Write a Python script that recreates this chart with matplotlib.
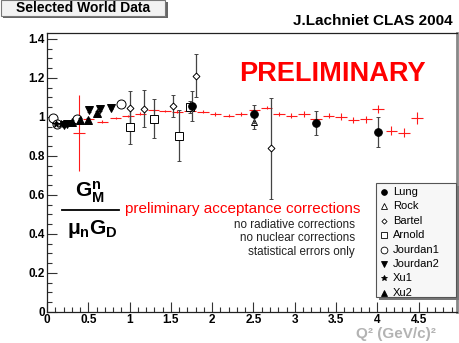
import matplotlib

matplotlib.use("Agg")
import matplotlib.pyplot as plt
from matplotlib.lines import Line2D
from matplotlib.patches import Rectangle
from matplotlib.ticker import MultipleLocator, FormatStrFormatter

plt.rcParams["font.family"] = ["Liberation Sans", "DejaVu Sans"]
plt.rcParams["mathtext.fontset"] = "custom"
plt.rcParams["mathtext.rm"] = "Liberation Sans"
plt.rcParams["mathtext.bf"] = "Liberation Sans:bold"
plt.rcParams["mathtext.it"] = "Liberation Sans:italic"

W, H = 459, 343

# CLAS preliminary points (red crosses)
clas_q2 = [0.39, 0.50, 0.67, 0.83, 0.98, 1.13, 1.29, 1.43, 1.58, 1.73, 1.89, 2.04, 2.20, 2.35,
           2.51, 2.66, 2.81, 2.96, 3.11, 3.26, 3.41, 3.56, 3.71, 3.86, 4.01, 4.17, 4.32, 4.48]
clas_ratio = [0.916, 0.99, 0.976, 0.995, 1.003, 1.017, 1.033, 1.031, 1.027, 1.030, 1.027, 1.015,
              1.005, 1.015, 1.034, 1.048, 1.015, 1.007, 1.015, 0.990, 1.007, 1.002, 0.985, 0.988,
              1.040, 0.930, 0.920, 0.995]
clas_err = [0.195, 0.006, 0.006, 0.006, 0.006, 0.006, 0.006, 0.006, 0.006, 0.007, 0.007, 0.008,
            0.008, 0.009, 0.010, 0.010, 0.011, 0.012, 0.013, 0.014, 0.015, 0.016, 0.017, 0.018,
            0.022, 0.024, 0.022, 0.030]
clas_bin = [0.07] * len(clas_q2)

# world data
lung_q2, lung_r, lung_e = [1.75, 2.51, 3.26, 4.01], [1.056, 1.015, 0.968, 0.925], [0.077, 0.045, 0.06, 0.077]
rock_q2, rock_r, rock_e = [2.51], [0.975], [0.035]
bartel_q2 = [1.00, 1.17, 1.53, 1.80, 2.71]
bartel_r = [1.048, 1.041, 1.056, 1.212, 0.839]
bartel_e = [0.085, 0.095, 0.057, 0.11, 0.26]
arnold_q2, arnold_r, arnold_e = [1.00, 1.30, 1.60, 1.73], [0.950, 0.990, 0.903, 1.050], [0.088, 0.10, 0.13, 0.03]
jourdan1_q2, jourdan1_r, jourdan1_e = [0.07, 0.125, 0.36, 0.90], [0.992, 0.966, 0.990, 1.065], [0.01, 0.01, 0.01, 0.01]
jourdan2_q2, jourdan2_r, jourdan2_e = [0.20, 0.24, 0.51, 0.64, 0.775], [0.960, 0.963, 1.036, 1.041, 1.048], [0.01] * 5
xu1_q2, xu1_r, xu1_e = [0.11, 0.17], [0.966, 0.962], [0.008, 0.008]
xu2_q2, xu2_r, xu2_e = [0.30, 0.40, 0.50, 0.61], [0.972, 0.984, 0.984, 1.019], [0.01] * 4

legend_labels = ["Lung", "Rock", "Bartel", "Arnold", "Jourdan1", "Jourdan2", "Xu1", "Xu2"]

# data, marker, face colour, size, drawing order
world = [
    (lung_q2, lung_r, lung_e, "o", "k", 5.5, 5),
    (rock_q2, rock_r, rock_e, "^", "white", 5, 3),
    (bartel_q2, bartel_r, bartel_e, "D", "white", 3.5, 3),
    (arnold_q2, arnold_r, arnold_e, "s", "white", 6, 3),
    (jourdan1_q2, jourdan1_r, jourdan1_e, "o", "white", 6.5, 3),
    (jourdan2_q2, jourdan2_r, jourdan2_e, "v", "k", 5.5, 4),
    (xu1_q2, xu1_r, xu1_e, "*", "k", 5.5, 4),
    (xu2_q2, xu2_r, xu2_e, "^", "k", 5.5, 4),
]


def fxy(x, y):
    """Pixel position (from top-left) to figure fraction."""
    return x / W, 1 - y / H


fig = plt.figure(figsize=(W / 100, H / 100), dpi=100)
fig.patch.set_facecolor("white")

ax = fig.add_axes([47 / W, 1 - 312 / H, 410 / W, 279 / H])
ax.set_xlim(0, 4.964)
ax.set_ylim(0, 1.43)

ax.errorbar(clas_q2, clas_ratio, xerr=clas_bin, yerr=clas_err, fmt="none",
            ecolor="#ff1a1a", elinewidth=0.8, capsize=0, zorder=2)

for q2, r, e, m, fc, ms, z in world:
    ax.errorbar(q2, r, yerr=e, fmt=m, mfc=fc, mec="k", ms=ms, mew=0.7,
                ecolor="#444444", elinewidth=0.9, capsize=1.5, capthick=0.8, zorder=z)

ax.xaxis.set_major_locator(MultipleLocator(0.5))
ax.xaxis.set_minor_locator(MultipleLocator(0.1))
ax.yaxis.set_major_locator(MultipleLocator(0.2))
ax.yaxis.set_minor_locator(MultipleLocator(0.05))
ax.xaxis.set_major_formatter(FormatStrFormatter("%g"))
ax.yaxis.set_major_formatter(FormatStrFormatter("%g"))
ax.tick_params(which="both", direction="in", top=False, right=False, width=0.8, color="#333333")
ax.tick_params(which="major", length=7, labelsize=8.5, pad=1.5)
ax.tick_params(which="minor", length=3.5)
for lab in ax.get_xticklabels() + ax.get_yticklabels():
    lab.set_fontweight("bold")
for s in ["left", "bottom", "top"]:
    ax.spines[s].set_linewidth(0.9)
    ax.spines[s].set_color("#222222")
ax.spines["right"].set_color("#888888")
ax.spines["right"].set_linewidth(2)

# x axis title
fig.text(*fxy(436, 334), "Q² (GeV/c)²", ha="right", va="center",
         fontsize=11, fontweight="bold", color="#b3b3b3")

# title box with shadow
fig.add_artist(Rectangle(fxy(3, 18), 165 / W, 16 / H, transform=fig.transFigure,
                         facecolor="#666666", edgecolor="none"))
fig.add_artist(Rectangle(fxy(1, 16), 164 / W, 16 / H, transform=fig.transFigure,
                         facecolor="#f2f2f2", edgecolor="#777777", lw=0.8))
fig.text(*fxy(83, 8.5), "Selected World Data", ha="center", va="center",
         fontsize=10, fontweight="bold")

fig.text(*fxy(453, 21), "J.Lachniet CLAS 2004", ha="right", va="center",
         fontsize=11, fontweight="bold")

fig.text(*fxy(332, 74), "PRELIMINARY", ha="center", va="center",
         fontsize=19.5, fontweight="bold", color="#ff0000")

# G_M^n / (mu_n G_D)
fig.text(*fxy(90, 192), r"$\mathbf{G^{n}_{M}}$", ha="center", va="center", fontsize=15)
fig.add_artist(Line2D([62 / W, 119 / W], [1 - 209.5 / H] * 2, transform=fig.transFigure,
                      color="k", lw=1.3))
fig.text(*fxy(92, 229), r"$\mathbf{\mu_{n}G_{D}}$", ha="center", va="center", fontsize=15)

fig.text(*fxy(125, 209), "preliminary acceptance corrections", ha="left", va="center",
         fontsize=11, color="#ff0000")
notes = ["no radiative corrections", "no nuclear corrections", "statistical errors only"]
for i, line in enumerate(notes):
    fig.text(*fxy(355, 225 + 13.3 * i), line, ha="right", va="center",
             fontsize=8.4, color="#222222")

# legend box with shadow
fig.add_artist(Rectangle(fxy(379, 300), 80 / W, 114 / H, transform=fig.transFigure,
                         facecolor="#777777", edgecolor="none"))
fig.add_artist(Rectangle(fxy(376, 297), 80 / W, 114 / H, transform=fig.transFigure,
                         facecolor="#f7f7f7", edgecolor="#555555", lw=0.8))
for i, (lab, (_, _, _, m, fc, ms, _z)) in enumerate(zip(legend_labels, world)):
    y = 192 + 14.4 * i
    fig.add_artist(Line2D([384 / W], [1 - y / H], transform=fig.transFigure, marker=m,
                          mfc=fc, mec="k", ms=ms * 0.75, mew=0.6, ls="none"))
    fig.text(*fxy(393, y), lab, ha="left", va="center", fontsize=8)

fig.savefig("out.png", dpi=100)
